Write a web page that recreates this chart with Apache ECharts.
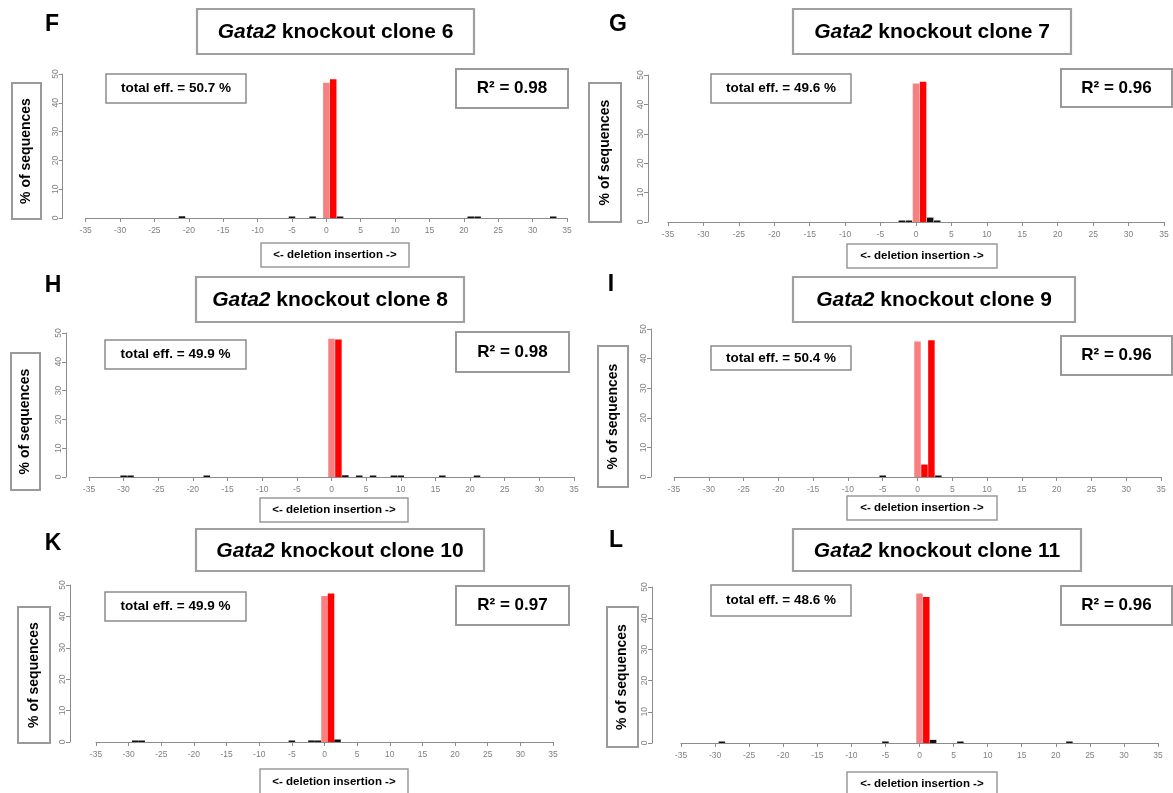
<!DOCTYPE html>
<html>
<head>
<meta charset="utf-8">
<script src="https://cdn.jsdelivr.net/npm/echarts@6/dist/echarts.min.js"></script>
<style>
html,body{margin:0;padding:0;background:#fff;}
#chart{width:1173px;height:793px;}
</style>
</head>
<body>
<div id="chart"></div>
<script>
// ---- data ----
const panelLetters = ['F', 'G', 'H', 'I', 'K', 'L'];
const cloneNumbers = [6, 7, 8, 9, 10, 11];
const totalEfficiency = [50.7, 49.6, 49.9, 50.4, 49.9, 48.6];
const rSquared = ['0.98', '0.96', '0.98', '0.96', '0.97', '0.96'];

const xTickMin = -35, xTickMax = 35, xTickStep = 5;
const yTickMin = 0, yTickMax = 50, yTickStep = 10;

const indelSizes6 = [-21, -5, -2, 0, 1, 2, 21, 22, 33];
const percent6 = [0.6, 0.3, 0.2, 47.0, 48.2, 0.4, 0.5, 0.5, 0.4];

const indelSizes7 = [-2, -1, 0, 1, 2, 3];
const percent7 = [0.1, 0.2, 47.1, 47.7, 1.5, 0.4];

const indelSizes8 = [-30, -29, -18, 0, 1, 2, 4, 6, 9, 10, 16, 21];
const percent8 = [0.2, 0.3, 0.1, 48.0, 47.7, 0.6, 0.2, 0.2, 0.2, 0.1, 0.2, 0.3];

const indelSizes9 = [-5, 0, 1, 2, 3];
const percent9 = [0.3, 45.8, 4.2, 46.2, 0.2];

const indelSizes10 = [-29, -28, -5, -2, -1, 0, 1, 2];
const percent10 = [0.3, 0.1, 0.4, 0.5, 0.2, 46.5, 47.3, 0.8];

const indelSizes11 = [-29, -5, 0, 1, 2, 6, 22];
const percent11 = [0.3, 0.1, 47.9, 46.8, 1.0, 0.2, 0.1];

const allSizes = [indelSizes6, indelSizes7, indelSizes8, indelSizes9, indelSizes10, indelSizes11];
const allPercents = [percent6, percent7, percent8, percent9, percent10, percent11];

// ---- layout (pixel geometry of each panel) ----
const FONT = '"Liberation Sans", Arial, sans-serif';
const layout = [
  { grid: [85.7, 74, 481.3, 144], yOff: 23, letter: [52, 25], title: [197, 9, 474, 54], ylab: [12, 83, 41, 219], eff: [106, 74, 246, 103], r2: [456, 69, 568, 108], xlab: [261, 243, 409, 267] },
  { grid: [668, 75, 496, 147], yOff: 20, letter: [618, 25], title: [793, 9, 1071, 54], ylab: [589, 83, 621, 222], eff: [711, 74, 851, 103], r2: [1061, 69, 1172, 107], xlab: [847, 244, 997, 268] },
  { grid: [89, 333, 485, 144], yOff: 23, letter: [53, 286], title: [196, 277, 464, 322], ylab: [11, 353, 40, 490], eff: [105, 340, 246, 369], r2: [456, 332, 569, 372], xlab: [260, 498, 408, 522] },
  { grid: [674, 329, 487, 148], yOff: 23, letter: [611, 285], title: [793, 277, 1075, 322], ylab: [598, 346, 628, 487], eff: [711, 346, 851, 370], r2: [1061, 336, 1172, 375], xlab: [847, 496, 997, 520] },
  { grid: [96, 585, 457, 157], yOff: 26, letter: [53, 544], title: [196, 529, 484, 571], ylab: [18, 607, 50, 743], eff: [105, 592, 246, 621], r2: [456, 586, 569, 625], xlab: [260, 769, 408, 795] },
  { grid: [681, 587, 477, 156], yOff: 29, letter: [616, 541], title: [793, 529, 1081, 571], ylab: [607, 607, 638, 747], eff: [711, 585, 851, 616], r2: [1061, 586, 1172, 625], xlab: [847, 772, 997, 795] }
];

function barColor(size, val) {
  if (size === 0) return '#f98080';
  if (val >= 3) return '#ff0000';
  return '#111111';
}

function box(r, stroke, lw) {
  return {
    type: 'rect',
    shape: { x: r[0], y: r[1], width: r[2] - r[0], height: r[3] - r[1] },
    style: { fill: '#fff', stroke: stroke, lineWidth: lw },
    z: 10
  };
}
function label(r, text, size, extra) {
  return Object.assign({
    type: 'text',
    x: (r[0] + r[2]) / 2, y: (r[1] + r[3]) / 2,
    style: { text: text, fontSize: size, fontWeight: 'bold', fontFamily: FONT, fill: '#000', align: 'center', verticalAlign: 'middle' },
    z: 11
  }, extra || {});
}

const grids = [], xAxes = [], yAxes = [], series = [], graphics = [];
layout.forEach(function (L, i) {
  grids.push({ left: L.grid[0], top: L.grid[1], width: L.grid[2], height: L.grid[3] });
  xAxes.push({
    type: 'value', gridIndex: i, min: xTickMin, max: xTickMax, interval: xTickStep,
    axisLine: { show: true, onZero: false, lineStyle: { color: '#8c8c8c', width: 1 } },
    axisTick: { show: true, length: 4, lineStyle: { color: '#8c8c8c' } },
    axisLabel: { color: '#808080', fontSize: 8.5, margin: 8, fontFamily: FONT },
    splitLine: { show: false }
  });
  yAxes.push({
    type: 'value', gridIndex: i, min: yTickMin, max: yTickMax, interval: yTickStep, offset: L.yOff,
    axisLine: { show: true, onZero: false, lineStyle: { color: '#8c8c8c', width: 1 } },
    axisTick: { show: true, length: 4, lineStyle: { color: '#8c8c8c' } },
    axisLabel: { color: '#808080', fontSize: 8.5, margin: 3, rotate: 90, fontFamily: FONT },
    splitLine: { show: false }
  });
  const sizes = allSizes[i], vals = allPercents[i];
  series.push({
    type: 'bar', xAxisIndex: i, yAxisIndex: i, barWidth: 6.5, barMinHeight: 1.5,
    data: sizes.map(function (s, k) { return { value: [s, vals[k]], itemStyle: { color: barColor(s, vals[k]) } }; }),
    silent: true, animation: false
  });

  graphics.push({
    type: 'text', x: L.letter[0], y: L.letter[1],
    style: { text: panelLetters[i], fontSize: 23, fontWeight: 'bold', fontFamily: FONT, fill: '#000', align: 'center', verticalAlign: 'middle' }
  });
  graphics.push(box(L.title, '#a0a0a0', 2.2));
  graphics.push({
    type: 'text', x: (L.title[0] + L.title[2]) / 2, y: (L.title[1] + L.title[3]) / 2 + 1, z: 11,
    style: {
      text: '{i|Gata2} knockout clone ' + cloneNumbers[i],
      fontSize: 21, fontWeight: 'bold', fontFamily: FONT, fill: '#000', align: 'center', verticalAlign: 'middle',
      rich: { i: { fontStyle: 'italic', fontWeight: 'bold', fontSize: 21, fontFamily: FONT, fill: '#000' } }
    }
  });
  graphics.push(box(L.ylab, '#9a9a9a', 2));
  graphics.push(label(L.ylab, '% of sequences', 14, { rotation: Math.PI / 2 }));
  graphics.push(box(L.eff, '#8c8c8c', 1.5));
  graphics.push(label(L.eff, 'total eff. = ' + totalEfficiency[i].toFixed(1) + ' %', 13.5));
  graphics.push(box(L.r2, '#9a9a9a', 2));
  graphics.push(label(L.r2, 'R\u00B2 = ' + rSquared[i], 17));
  graphics.push(box(L.xlab, '#9a9a9a', 1.5));
  graphics.push(label(L.xlab, '<- deletion insertion ->', 11.5));
});

const chart = echarts.init(document.getElementById('chart'), null, { renderer: 'canvas' });
chart.setOption({
  backgroundColor: '#ffffff',
  animation: false,
  grid: grids,
  xAxis: xAxes,
  yAxis: yAxes,
  series: series,
  graphic: graphics
});
</script>
</body>
</html>
